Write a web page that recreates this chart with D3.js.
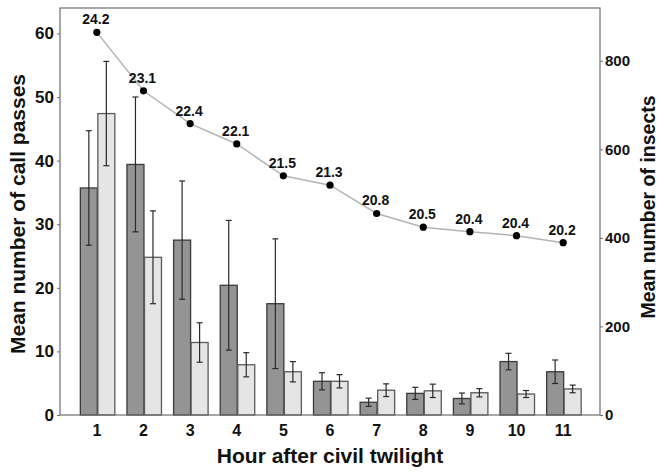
<!DOCTYPE html>
<html>
<head>
<meta charset="utf-8">
<script src="https://cdn.jsdelivr.net/npm/d3@7"></script>
<style>
  html, body { margin: 0; padding: 0; background: #fff; }
  svg { display: block; font-family: "Liberation Sans", Arial, sans-serif; }
</style>
</head>
<body>
<svg id="chart" width="661" height="474"></svg>
<script>
// Hours after civil twilight
const hours = [1, 2, 3, 4, 5, 6, 7, 8, 9, 10, 11];
// Mean number of call passes, first series (dark bars) with error half-widths
const darkMean = [35.7, 39.4, 27.5, 20.4, 17.5, 5.3, 2.0, 3.4, 2.6, 8.4, 6.8];
const darkErr  = [9.0, 10.6, 9.3, 10.2, 10.2, 1.35, 0.65, 0.95, 0.85, 1.3, 1.85];
// Mean number of call passes, second series (light bars)
const lightMean = [47.4, 24.8, 11.4, 7.9, 6.8, 5.3, 3.9, 3.8, 3.5, 3.3, 4.1];
const lightErr  = [8.2, 7.3, 3.1, 1.9, 1.6, 1.05, 1.0, 1.05, 0.65, 0.55, 0.6];
// Mean number of insects per hour and the temperature shown at each point
const insects = [864, 732, 658, 612, 540, 519, 455, 424, 414, 405, 389];
const temps = ["24.2", "23.1", "22.4", "22.1", "21.5", "21.3", "20.8", "20.5", "20.4", "20.4", "20.2"];
// Axis ticks
const leftTicks = [0, 10, 20, 30, 40, 50, 60];
const rightTicks = [0, 200, 400, 600, 800];

const svg = d3.select("#chart");
const m = { left: 60, right: 600, top: 8, bottom: 415 };

const x = d3.scaleBand().domain(hours).range([m.left, m.right])
  .paddingInner(0).paddingOuter(0.29);
const yL = d3.scaleLinear().domain([0, 64]).range([m.bottom, m.top]);
const yR = d3.scaleLinear().domain([0, 919]).range([m.bottom, m.top]);
const cx = h => x(h) + x.bandwidth() / 2;

// paired bar placement inside each hour
const sub = d3.scaleBand().domain(["dark", "light"]).range([-16.5, 18]).paddingInner(0.03);

const series = [
  { key: "dark", mean: darkMean, err: darkErr, fill: "#949494", stroke: "#3a3a3a" },
  { key: "light", mean: lightMean, err: lightErr, fill: "#e5e5e5", stroke: "#5a5a5a" }
];

// bars
series.forEach(s => {
  const g = svg.append("g");
  g.selectAll("rect").data(hours).join("rect")
    .attr("x", (h) => cx(h) + sub(s.key))
    .attr("width", sub.bandwidth())
    .attr("y", (h, i) => yL(s.mean[i]))
    .attr("height", (h, i) => yL(0) - yL(s.mean[i]))
    .attr("fill", s.fill)
    .attr("stroke", s.stroke)
    .attr("stroke-width", 1.3);
});

// error bars
series.forEach(s => {
  const g = svg.append("g").attr("stroke", "#2a2a2a").attr("stroke-width", 1.2);
  hours.forEach((h, i) => {
    const xc = cx(h) + sub(s.key) + sub.bandwidth() / 2;
    const lo = yL(s.mean[i] - s.err[i]), hi = yL(s.mean[i] + s.err[i]);
    g.append("line").attr("x1", xc).attr("x2", xc).attr("y1", lo).attr("y2", hi);
    g.append("line").attr("x1", xc - 3).attr("x2", xc + 3).attr("y1", lo).attr("y2", lo);
    g.append("line").attr("x1", xc - 3).attr("x2", xc + 3).attr("y1", hi).attr("y2", hi);
  });
});

// insect line
const line = d3.line().x(h => cx(h)).y((h, i) => yR(insects[i]));
svg.append("path").datum(hours).attr("d", line)
  .attr("fill", "none").attr("stroke", "#b4b4b4").attr("stroke-width", 1.5);
svg.append("g").selectAll("circle").data(hours).join("circle")
  .attr("cx", h => cx(h)).attr("cy", (h, i) => yR(insects[i]))
  .attr("r", 3.6).attr("fill", "#000");
svg.append("g").selectAll("text").data(hours).join("text")
  .attr("x", h => cx(h) - 1).attr("y", (h, i) => yR(insects[i]) - 8)
  .attr("text-anchor", "middle").attr("font-size", 14).attr("font-weight", "bold")
  .attr("fill", "#111")
  .text((h, i) => temps[i]);

// frame
svg.append("rect").attr("x", m.left).attr("y", m.top)
  .attr("width", m.right - m.left).attr("height", m.bottom - m.top)
  .attr("fill", "none").attr("stroke", "#6e6e6e").attr("stroke-width", 1.2);

// left axis
const axL = svg.append("g").attr("transform", `translate(${m.left},0)`)
  .call(d3.axisLeft(yL).tickValues(leftTicks).tickSize(3).tickPadding(3));
axL.select(".domain").remove();
axL.selectAll(".tick line").attr("stroke", "#6e6e6e");
axL.selectAll(".tick text").attr("font-size", 17).attr("font-weight", "bold")
  .attr("fill", "#111").attr("font-family", "Liberation Sans, Arial, sans-serif");

// right axis
const axR = svg.append("g").attr("transform", `translate(${m.right},0)`)
  .call(d3.axisRight(yR).tickValues(rightTicks).tickSize(3).tickPadding(2));
axR.select(".domain").remove();
axR.selectAll(".tick line").attr("stroke", "#6e6e6e");
axR.selectAll(".tick text").attr("font-size", 15).attr("font-weight", "bold")
  .attr("fill", "#111").attr("font-family", "Liberation Sans, Arial, sans-serif");

// bottom axis labels
const axB = svg.append("g").attr("transform", `translate(0,${m.bottom})`)
  .call(d3.axisBottom(x).tickSize(0).tickPadding(10));
axB.select(".domain").remove();
axB.selectAll(".tick text").attr("font-size", 16).attr("font-weight", "bold")
  .attr("fill", "#111").attr("font-family", "Liberation Sans, Arial, sans-serif");

// axis titles
svg.append("text").attr("transform", "translate(25,214) rotate(-90)")
  .attr("text-anchor", "middle").attr("font-size", 21).attr("font-weight", "bold")
  .attr("fill", "#111").text("Mean number of call passes");
svg.append("text").attr("transform", "translate(655,207) rotate(-90)")
  .attr("text-anchor", "middle").attr("font-size", 19.5).attr("font-weight", "bold")
  .attr("fill", "#111").text("Mean number of insects");
svg.append("text").attr("x", 330).attr("y", 463)
  .attr("text-anchor", "middle").attr("font-size", 21).attr("font-weight", "bold")
  .attr("fill", "#111").text("Hour after civil twilight");
</script>
</body>
</html>
